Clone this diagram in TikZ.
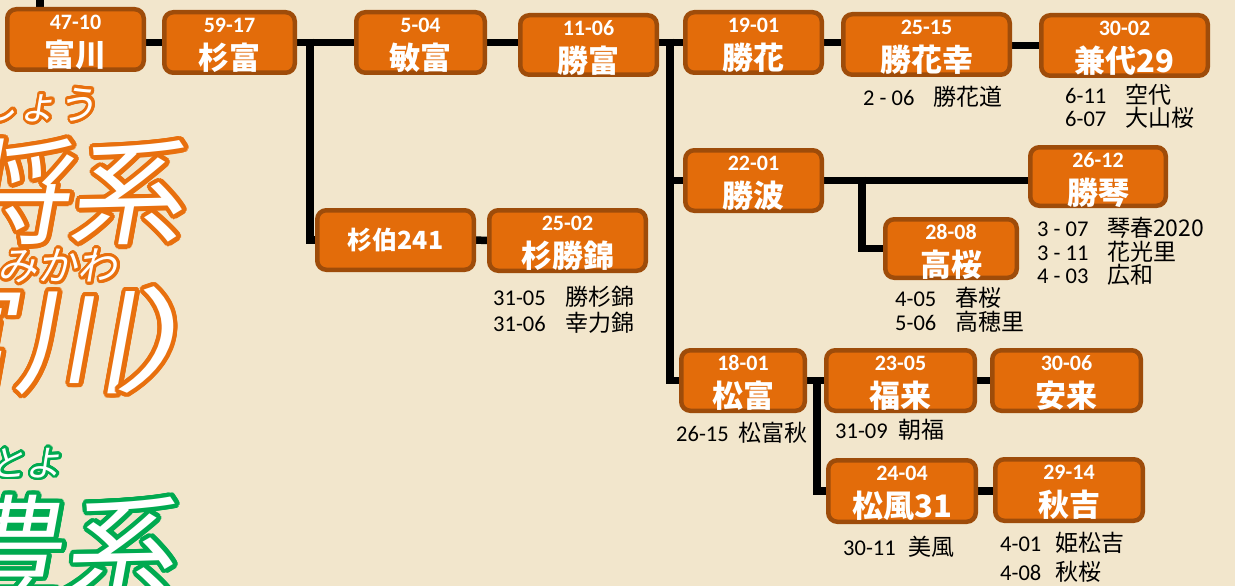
\documentclass[tikz,border=0pt]{standalone}
\usepackage{graphicx}
\usepackage{fontspec}
\setmainfont{Noto Sans CJK JP}
\newfontfamily\jfont{Noto Sans CJK JP}
\newfontfamily\decofont[FakeSlant=0.18]{Noto Sans CJK JP}
\newfontfamily\numfont{Carlito}
\usetikzlibrary{calc}
\pgfdeclarelayer{back}
\pgfdeclarelayer{lines}
\pgfsetlayers{back,lines,main}
\definecolor{bgc}{RGB}{242,230,204}
\definecolor{boxfill}{RGB}{227,108,10}
\definecolor{boxbrd}{RGB}{158,76,10}
\definecolor{decoor}{RGB}{232,112,14}
\definecolor{decogr}{RGB}{0,170,80}
\tikzset{
  famb/.style={draw=boxbrd, line width=4.5pt, fill=boxfill, rounded corners=9pt, inner sep=0pt},
  numt/.style={text=white, font=\numfont\bfseries\fontsize{22}{22}\selectfont, inner sep=0pt},
  namet/.style={text=white, font=\jfont\bfseries\fontsize{31}{31}\selectfont, inner sep=0pt},
  annt/.style={text=black, anchor=west, inner sep=0pt, font=\jfont\fontsize{23}{23}\selectfont},
  conn/.style={line width=7.5pt, draw=black, line join=miter},
  deco/.style={inner sep=0pt, anchor=center},
}
% name, cx, cy, w, h, number, name
\newcommand\famnode[7]{%
  \node[famb, minimum width={#4pt-4.5pt}, minimum height={#5pt-4.5pt}] (#1) at (#2,#3) {};
  \node[numt] (#1-n) at ($(#1.north)+(0,15)$) {#6};
  \node[namet] (#1-m) at ($(#1.north)+(0,48)$) {#7};
}
% name, x, y, number, offset, text
\newcommand\annline[6]{%
  \node[annt] (#1) at (#2,#3) {\makebox[#5pt][l]{\numfont\fontsize{22.5}{22}\selectfont #4}#6};
}
% name, position, colour, font, text, radius
\newcommand\outl[6]{%
  \foreach \a in {0,15,...,345}{\node[deco, text=#3, font=#4] (#1-\a) at ($(#2)+(\a:#6)$) {#5};}
  \node[deco, text=white, font=#4] (#1) at (#2) {#5};
}
\begin{document}
\begin{tikzpicture}[x=1pt,y=-1pt]
\useasboundingbox (0,0) rectangle (1235,586);
\begin{pgfonlayer}{back}
\fill[bgc] (0,0) rectangle (1235,586);
\end{pgfonlayer}
\clip (0,0) rectangle (1235,586);

% decorative titles
\outl{d1}{38,105}{decoor}{\decofont\fontsize{40}{40}\selectfont}{しょう}{2.8pt}
\outl{d2}{68,192}{decoor}{\decofont\fontsize{115}{115}\selectfont}{将系}{4.3pt}
\outl{d3}{38,266}{decoor}{\decofont\fontsize{40}{40}\selectfont}{とみかわ}{2.8pt}
\outl{d4}{14,340}{decoor}{\decofont\fontsize{118}{118}\selectfont}{富川}{4.3pt}
\outl{d5}{192,340}{decoor}{\decofont\fontsize{112}{112}\selectfont}{\scalebox{1.4}[1]{）}}{4.3pt}
\outl{d6}{26,463}{decogr}{\decofont\fontsize{36}{36}\selectfont}{とよ}{2.6pt}
\outl{d7}{62,547}{decogr}{\decofont\fontsize{112}{112}\selectfont}{豊系}{4.3pt}

% boxes
\famnode{tomikawa}{75.5}{39.5}{141}{65}{47-10}{富川}
\famnode{sugitomi}{229.5}{42.5}{135}{65}{59-17}{杉富}
\famnode{toshitomi}{420.5}{42.5}{133}{65}{5-04}{敏富}
\famnode{katsutomi}{588.5}{45}{141}{64}{11-06}{勝富}
\famnode{katsuhana}{753.5}{42.5}{141}{65}{19-01}{勝花}
\famnode{katsuhanako}{926.5}{44.5}{171}{65}{25-15}{勝花幸}
\famnode{kaneyo}{1124.5}{45.5}{171}{65}{30-02}{兼代29}
\node[famb, minimum width={161pt-4.5pt}, minimum height={64pt-4.5pt}] (sugihaku) at (395.5,240) {};
\node[namet, font=\jfont\bfseries\fontsize{25}{25}\selectfont] (sugihaku-m) at (sugihaku.center) {杉伯241};
\famnode{sugikatsu}{567.5}{240.5}{161}{65}{25-02}{杉勝錦}
\famnode{katsunami}{753.5}{180.5}{141}{65}{22-01}{勝波}
\famnode{katsukoto}{1098}{176.5}{140}{63}{26-12}{勝琴}
\famnode{takasakura}{951}{248.5}{136}{63}{28-08}{高桜}
\famnode{matsutomi}{743}{380.5}{128}{65}{18-01}{松富}
\famnode{fukurai}{900.5}{380.5}{153}{65}{23-05}{福来}
\famnode{anrai}{1066.5}{380.5}{153}{65}{30-06}{安来}
\famnode{matsukaze}{902}{491}{152}{66}{24-04}{松風31}
\famnode{akiyoshi}{1069}{490}{152}{66}{29-14}{秋吉}

% annotations
\annline{a1}{863}{97}{2 - 06}{70}{勝花道}
\annline{a2}{1065}{95}{6-11}{60}{空代}
\annline{a3}{1065}{118}{6-07}{60}{大山桜}
\annline{a4}{493}{297}{31-05}{72}{勝杉錦}
\annline{a5}{493}{323}{31-06}{72}{幸力錦}
\annline{a6}{1037}{228}{3 - 07}{70}{琴春2020}
\annline{a7}{1037}{252}{3 - 11}{70}{花光里}
\annline{a8}{1037}{275}{4 - 03}{70}{広和}
\annline{a9}{895}{298}{4-05}{60}{春桜}
\annline{a10}{895}{322}{5-06}{60}{高穂里}
\annline{a11}{676}{433}{26-15}{62}{松富秋}
\annline{a12}{835}{430}{31-09}{63}{朝福}
\annline{a13}{843}{547}{30-11}{65}{美風}
\annline{a14}{1000}{543}{4-01}{55}{姫松吉}
\annline{a15}{1000}{572}{4-08}{55}{秋桜}

% connectors
\coordinate (top0) at (40,-10);
\coordinate (j1) at (310,38.75);
\coordinate (j2) at (670,38.75);
\coordinate (j3) at (862,176.75);
\coordinate (j4) at (817,376.75);
\begin{pgfonlayer}{lines}
\draw[conn] (top0) -- (top0 |- tomikawa.center);
\draw[conn] (tomikawa.center |- sugitomi.center) -- (sugitomi.center);
\draw[conn] (sugitomi) -- (toshitomi);
\draw[conn] (j1) |- (sugihaku);
\draw[conn] (toshitomi) -- (katsutomi.center |- toshitomi.center);
\draw[conn] (katsutomi.center |- katsuhana.center) -- (katsuhana);
\draw[conn] (j2) |- (matsutomi);
\draw[conn] (j2 |- katsunami) -- (katsunami);
\draw[conn] (katsuhana) -- (katsuhanako.center |- katsuhana.center);
\draw[conn] (katsuhanako.center |- kaneyo.center) -- (kaneyo);
\draw[conn] (sugihaku) -- (sugikatsu);
\draw[conn] (katsunami) -- (katsukoto.center |- katsunami.center);
\draw[conn] (j3) |- (takasakura);
\draw[conn] (matsutomi) -- (fukurai);
\draw[conn] (j4) |- (matsukaze);
\draw[conn] (fukurai) -- (anrai);
\draw[conn] (matsukaze) -- (akiyoshi.center |- matsukaze.center);
\end{pgfonlayer}
\end{tikzpicture}
\end{document}
